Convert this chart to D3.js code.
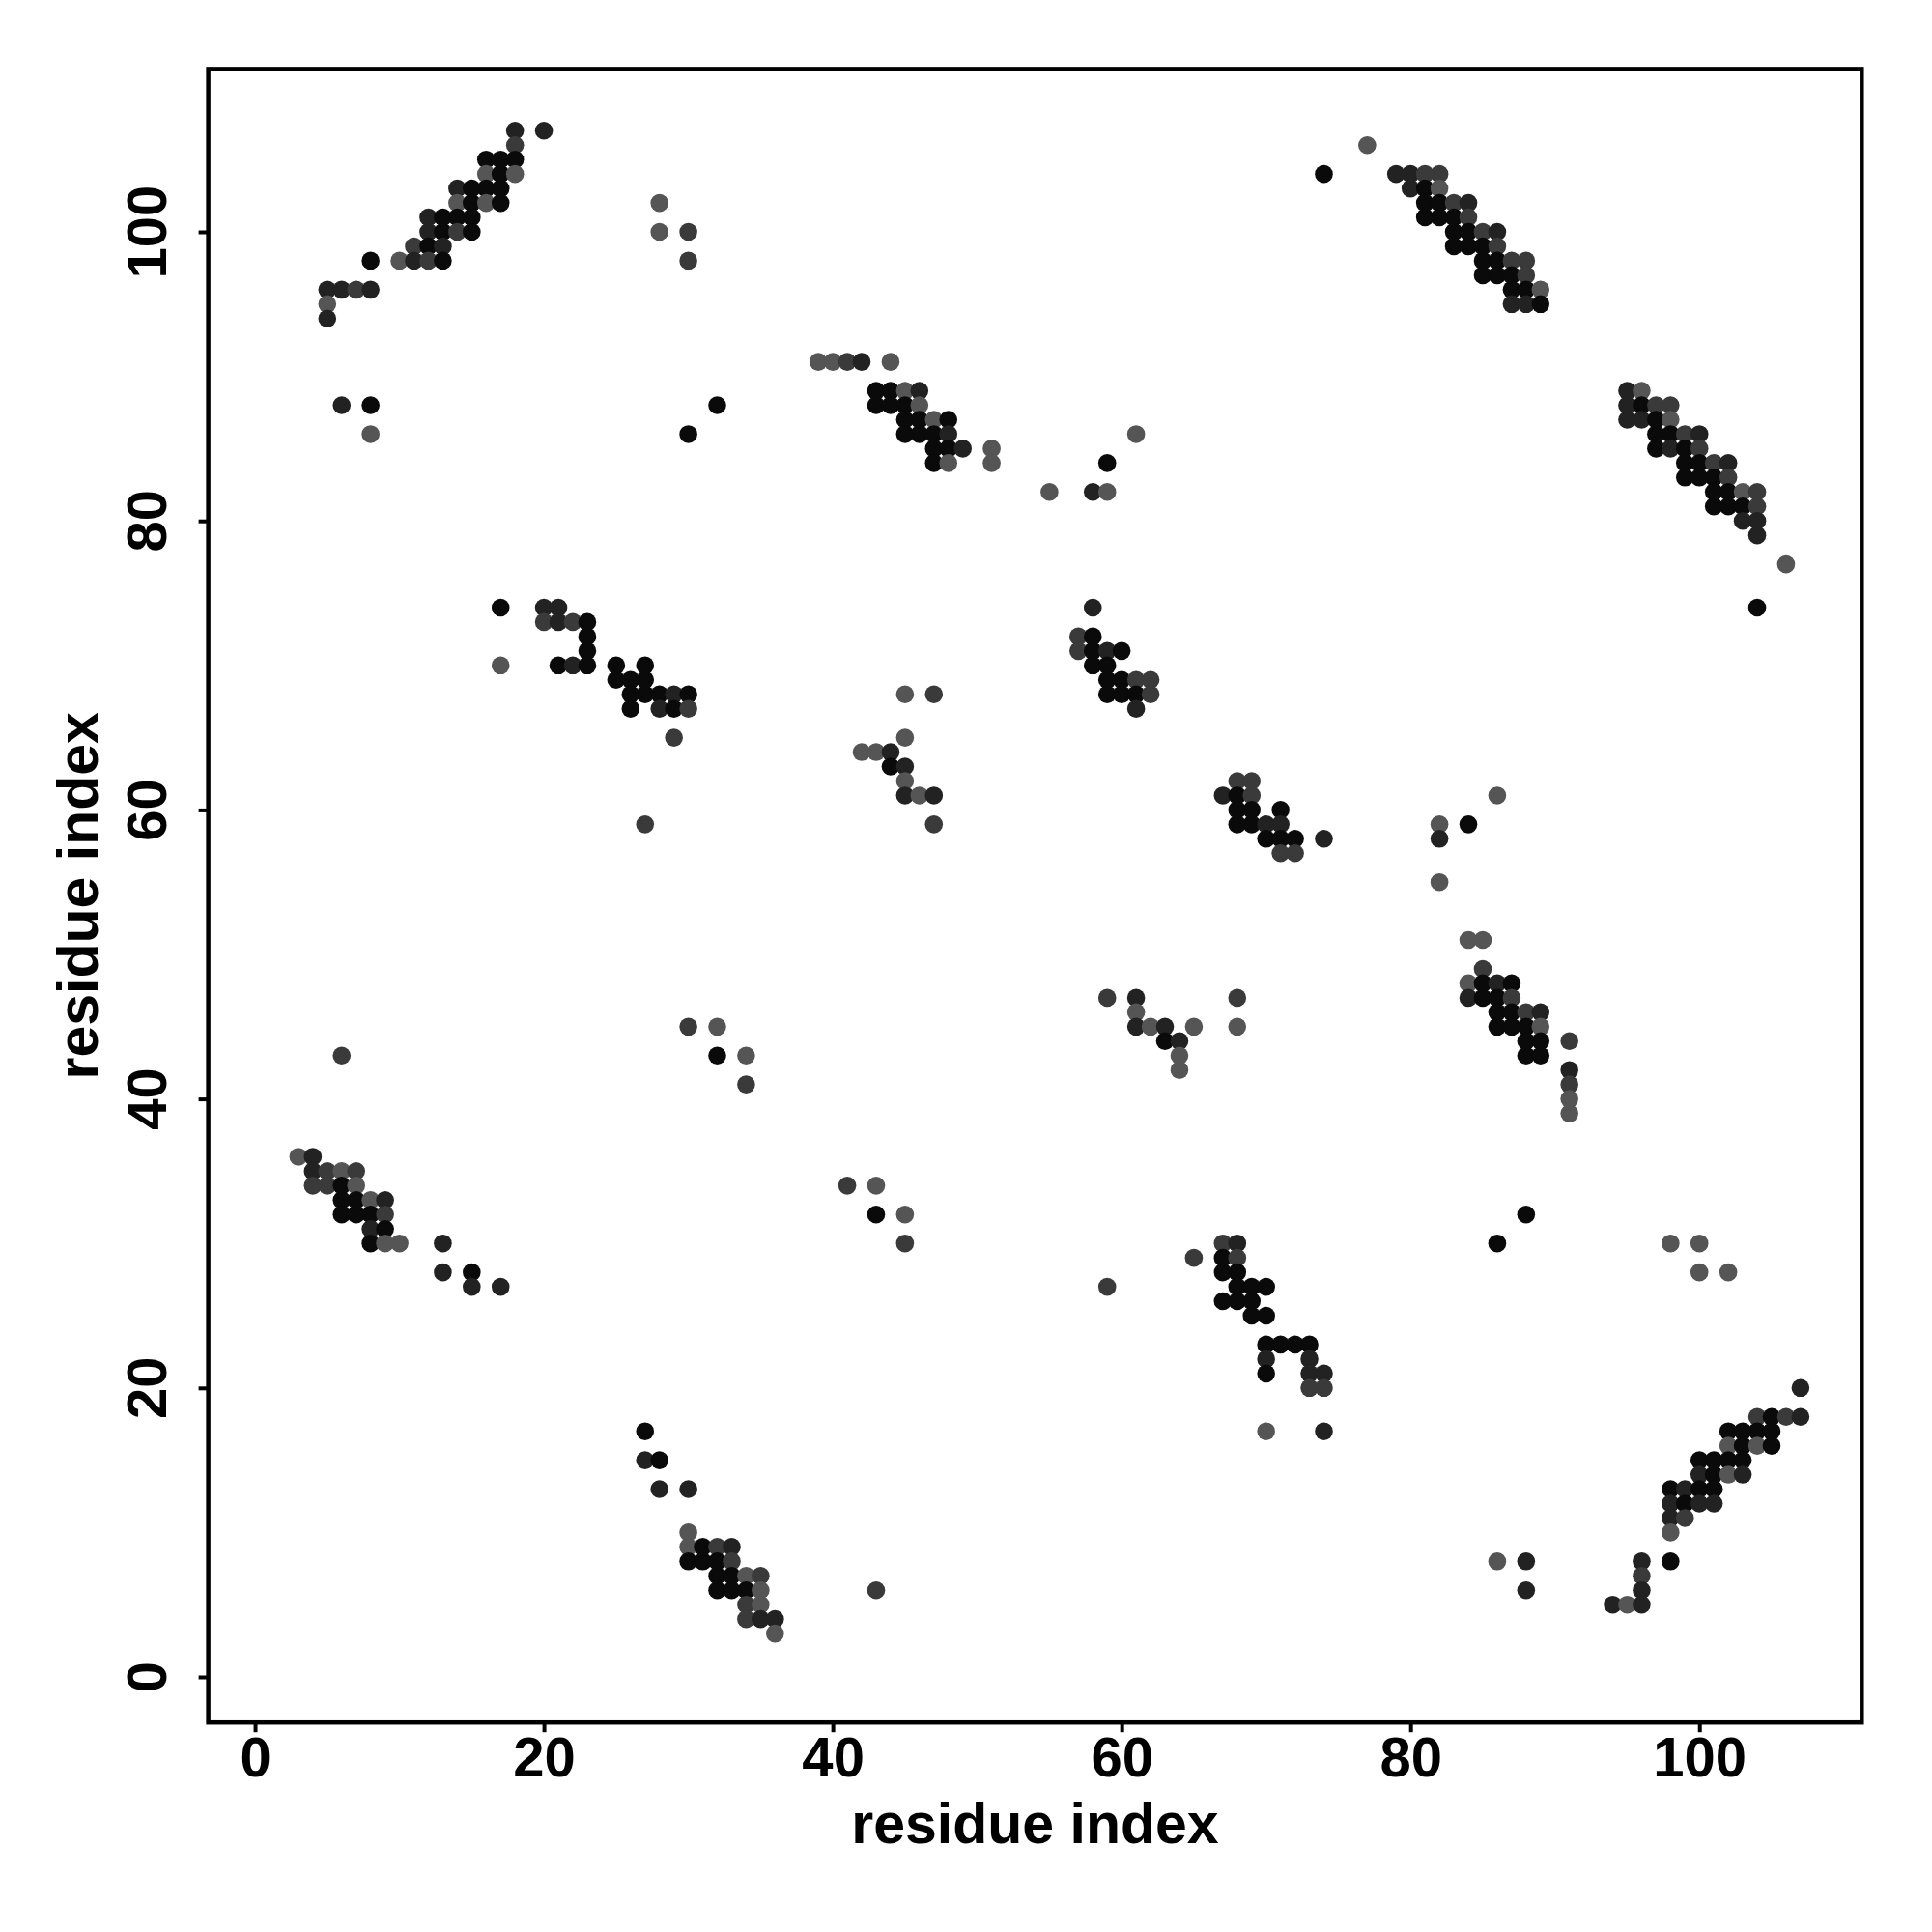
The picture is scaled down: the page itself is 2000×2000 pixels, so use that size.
<!DOCTYPE html>
<html>
<head>
<meta charset="utf-8">
<script src="https://cdnjs.cloudflare.com/ajax/libs/d3/7.8.5/d3.min.js"></script>
<style>
  html, body { margin: 0; padding: 0; background: #ffffff; }
  svg { display: block; }
</style>
</head>
<body>
<script>
// ---------- DATA: contacts as [residue i, residue j, shade level] ----------
// shade level: 0 = black, 1 = very dark grey, 2 = dark grey, 3 = grey
const blockTopLeft = [
  [18,107,1],[20,107,1],[18,106,2],
  [16,105,0],[17,105,0],[18,105,0],
  [16,104,3],[17,104,0],[18,104,3],
  [14,103,1],[15,103,0],[16,103,0],[17,103,0],
  [14,102,3],[15,102,0],[16,102,3],[17,102,0],
  [12,101,1],[13,101,0],[14,101,0],[15,101,0],
  [12,100,1],[13,100,0],[14,100,2],[15,100,0],
  [11,99,2],[12,99,0],[13,99,1],
  [8,98,0],[10,98,3],[11,98,1],[12,98,2],[13,98,0],
  [5,96,1],[6,96,1],[7,96,2],[8,96,1],
  [5,95,3],[5,94,1],
  [6,88,1],[8,88,0],[8,86,3]
];
const blockTopMiddle = [
  [28,102,3],[28,100,3],[30,100,2],[30,98,2],[32,88,0],[30,86,0],
  [39,91,3],[40,91,3],[41,91,2],[42,91,1],[44,91,3],
  [43,89,0],[44,89,0],[45,89,3],[46,89,1],
  [43,88,0],[44,88,0],[45,88,0],[46,88,3],
  [45,87,0],[46,87,0],[47,87,3],[48,87,0],
  [45,86,0],[46,86,0],[47,86,0],[48,86,1],
  [47,85,0],[48,85,0],[49,85,1],[51,85,3],
  [47,84,0],[48,84,3],[51,84,3],
  [61,86,3],[59,84,0],[55,82,3],[58,82,1],[59,82,3]
];
const blockTopRight = [
  [77,106,3],[74,104,0],
  [79,104,1],[80,104,1],[81,104,2],[82,104,2],
  [80,103,1],[81,103,0],[82,103,3],
  [81,102,0],[82,102,0],[83,102,2],[84,102,1],
  [81,101,0],[82,101,0],[83,101,0],[84,101,2],
  [83,100,0],[84,100,0],[85,100,2],[86,100,1],
  [83,99,0],[84,99,0],[85,99,0],[86,99,2],
  [85,98,0],[86,98,0],[87,98,2],[88,98,2],
  [85,97,0],[86,97,0],[87,97,0],[88,97,2],
  [87,96,0],[88,96,0],[89,96,3],
  [87,95,1],[88,95,1],[89,95,0]
];
const blockRightUpper = [
  [95,89,1],[96,89,3],
  [95,88,1],[96,88,0],[97,88,2],[98,88,2],
  [95,87,1],[96,87,1],[97,87,0],[98,87,3],
  [97,86,0],[98,86,0],[99,86,2],[100,86,1],
  [97,85,0],[98,85,1],[99,85,0],[100,85,2],
  [99,84,0],[100,84,0],[101,84,2],[102,84,1],
  [99,83,0],[100,83,0],[101,83,0],[102,83,2],
  [101,82,0],[102,82,0],[103,82,3],[104,82,2],
  [101,81,0],[102,81,0],[103,81,0],[104,81,2],
  [103,80,1],[104,80,1],[104,79,1],
  [106,77,3],[104,74,0]
];
const blockMidLeft = [
  [17,74,0],[17,70,3],
  [20,74,1],[21,74,1],
  [20,73,2],[21,73,1],[22,73,2],[23,73,0],
  [23,72,0],[23,71,0],
  [21,70,0],[22,70,1],[23,70,0],
  [25,70,0],[27,70,0],
  [25,69,0],[26,69,0],[27,69,0],
  [26,68,0],[27,68,0],[28,68,0],[29,68,1],[30,68,0],
  [26,67,0],[28,67,1],[29,67,0],[30,67,2],
  [29,65,2],[27,59,2],
  [45,68,3],[47,68,2],[45,65,3],
  [42,64,3],[43,64,3],[44,64,1],
  [44,63,0],[45,63,1],[45,62,3],
  [45,61,1],[46,61,3],[47,61,1],[47,59,2]
];
const blockCentre = [
  [58,74,1],[57,72,2],[58,72,0],
  [57,71,2],[58,71,0],[59,71,1],[60,71,0],
  [58,70,0],[59,70,0],
  [59,69,0],[60,69,0],[61,69,2],[62,69,2],
  [59,68,0],[60,68,0],[61,68,0],[62,68,2],
  [61,67,1],
  [68,62,2],[69,62,2],
  [67,61,1],[68,61,0],[69,61,2],
  [68,60,0],[69,60,0],[71,60,0],
  [68,59,0],[69,59,0],[70,59,1],[71,59,1],
  [70,58,0],[71,58,0],[72,58,0],[74,58,1],
  [71,57,2],[72,57,2]
];
const blockRightMiddle = [
  [86,61,3],[82,59,3],[84,59,0],[82,58,1],[82,55,3],
  [84,51,3],[85,51,3],
  [85,49,2],
  [84,48,3],[85,48,0],[86,48,1],[87,48,0],
  [84,47,1],[85,47,0],[86,47,0],[87,47,2],
  [86,46,0],[87,46,0],[88,46,2],[89,46,1],
  [86,45,0],[87,45,0],[88,45,0],[89,45,3],
  [88,44,0],[89,44,0],[91,44,2],
  [88,43,0],[89,43,0],
  [91,42,1],[91,41,2],[91,40,3],[91,39,3]
];
const blockCentreLower = [
  [59,47,2],[61,47,1],[68,47,2],
  [61,46,3],
  [61,45,1],[62,45,3],[63,45,1],[65,45,3],[68,45,3],
  [63,44,0],[64,44,1],[64,43,3],[64,42,3]
];
const blockLowerLeft = [
  [6,43,2],[30,45,2],[32,45,3],[32,43,0],[34,43,3],[34,41,2],
  [41,34,2],[43,34,3],[43,32,0],[45,32,3],[45,30,2],
  [3,36,3],[4,36,1],
  [4,35,1],[5,35,2],[6,35,3],[7,35,2],
  [4,34,2],[5,34,2],[6,34,0],[7,34,3],
  [6,33,0],[7,33,0],[8,33,3],[9,33,1],
  [6,32,0],[7,32,0],[8,32,0],[9,32,2],
  [8,31,1],[9,31,0],
  [8,30,0],[9,30,3],[10,30,3],[13,30,1],
  [13,28,1],[15,28,0],
  [15,27,1],[17,27,1]
];
const blockLowerCentre = [
  [59,27,2],[65,29,2],
  [67,30,2],[68,30,1],
  [67,29,0],[68,29,2],
  [67,28,0],[68,28,0],
  [68,27,0],[69,27,0],[70,27,0],
  [67,26,0],[68,26,0],[69,26,0],
  [69,25,0],[70,25,0],
  [70,23,0],[71,23,0],[72,23,0],[73,23,0],
  [70,22,1],[73,22,1],
  [70,21,0],[73,21,1],[74,21,1],
  [73,20,2],[74,20,2],
  [70,17,3],[74,17,1]
];
const blockLowerRight = [
  [88,32,0],[86,30,0],[98,30,3],[100,30,3],[100,28,3],[102,28,3],
  [107,20,1],
  [104,18,2],[105,18,0],[106,18,2],[107,18,1],
  [102,17,0],[103,17,0],[104,17,0],[105,17,0],
  [102,16,3],[103,16,0],[104,16,3],[105,16,0],
  [100,15,0],[101,15,0],[102,15,0],[103,15,0],
  [100,14,1],[101,14,0],[102,14,3],[103,14,1],
  [98,13,0],[99,13,1],[100,13,0],[101,13,0],
  [98,12,1],[99,12,0],[100,12,1],[101,12,1],
  [98,11,1],[99,11,2],
  [98,10,3],
  [86,8,3],[88,8,1],[96,8,1],[98,8,0],
  [96,7,2],
  [88,6,1],[96,6,1],
  [94,5,1],[95,5,3],[96,5,1]
];
const blockBottom = [
  [27,17,0],[27,15,1],[28,15,0],[28,13,1],[30,13,1],
  [30,10,3],
  [30,9,3],[31,9,0],[32,9,2],[33,9,1],
  [30,8,0],[31,8,0],[32,8,0],[33,8,2],
  [32,7,0],[33,7,0],[34,7,3],[35,7,2],
  [32,6,0],[33,6,0],[34,6,0],[35,6,3],
  [34,5,2],[35,5,3],
  [34,4,2],[35,4,1],[36,4,1],
  [36,3,3],
  [43,6,2]
];

const tickValues = [0, 20, 40, 60, 80, 100];
const xLabel = "residue index";
const yLabel = "residue index";
const shadeColors = ["#0a0a0a", "#222222", "#3a3a3a", "#555555"];

// ---------- DRAW ----------
const W = 2000, H = 2000;
const box = { left: 215.6, right: 1927.3, top: 71.4, bottom: 1783.2 };

const contacts = [].concat(
  blockTopLeft, blockTopMiddle, blockTopRight, blockRightUpper,
  blockMidLeft, blockCentre, blockRightMiddle, blockCentreLower,
  blockLowerLeft, blockLowerCentre, blockLowerRight, blockBottom
);

const x = d3.scaleLinear().domain([-3.24, 111.24]).range([box.left, box.right]);
const y = d3.scaleLinear().domain([-3.155, 111.27]).range([box.bottom, box.top]);

const svg = d3.select("body").append("svg")
  .attr("width", W).attr("height", H)
  .style("font-family", "'Liberation Sans', Arial, Helvetica, sans-serif");

svg.append("rect").attr("width", W).attr("height", H).attr("fill", "#ffffff");

// points
svg.append("g").selectAll("circle")
  .data(contacts)
  .join("circle")
  .attr("cx", d => x(d[0]))
  .attr("cy", d => y(d[1]))
  .attr("r", 9.3)
  .attr("fill", d => shadeColors[d[2]]);

// x axis
const xAxis = svg.append("g")
  .attr("transform", `translate(0,${box.bottom})`)
  .call(d3.axisBottom(x).tickValues(tickValues).tickSize(10).tickPadding(5).tickFormat(d3.format("d")));
xAxis.select(".domain").remove();
xAxis.selectAll(".tick line").attr("stroke", "#000").attr("stroke-width", 4);
xAxis.selectAll(".tick text")
  .attr("fill", "#000")
  .style("font-size", "58px")
  .style("font-weight", "bold")
  .style("font-family", "'Liberation Sans', Arial, sans-serif");

// y axis: ticks via axis generator, labels rotated (parallel to axis)
const yAxis = svg.append("g")
  .attr("transform", `translate(${box.left},0)`)
  .call(d3.axisLeft(y).tickValues(tickValues).tickSize(10).tickFormat(""));
yAxis.select(".domain").remove();
yAxis.selectAll(".tick line").attr("stroke", "#000").attr("stroke-width", 4);

svg.append("g").selectAll("text")
  .data(tickValues)
  .join("text")
  .attr("transform", d => `translate(172,${y(d)}) rotate(-90)`)
  .attr("text-anchor", "middle")
  .attr("fill", "#000")
  .style("font-size", "58px")
  .style("font-weight", "bold")
  .text(d => d3.format("d")(d));

// box
svg.append("rect")
  .attr("x", box.left).attr("y", box.top)
  .attr("width", box.right - box.left).attr("height", box.bottom - box.top)
  .attr("fill", "none").attr("stroke", "#000").attr("stroke-width", 4.5);

// axis titles
svg.append("text")
  .attr("x", (box.left + box.right) / 2)
  .attr("y", 1908)
  .attr("text-anchor", "middle")
  .style("font-size", "59px")
  .style("font-weight", "bold")
  .text(xLabel);

svg.append("text")
  .attr("transform", `translate(101,${(box.top + box.bottom) / 2}) rotate(-90)`)
  .attr("text-anchor", "middle")
  .style("font-size", "59px")
  .style("font-weight", "bold")
  .text(yLabel);
</script>
</body>
</html>
